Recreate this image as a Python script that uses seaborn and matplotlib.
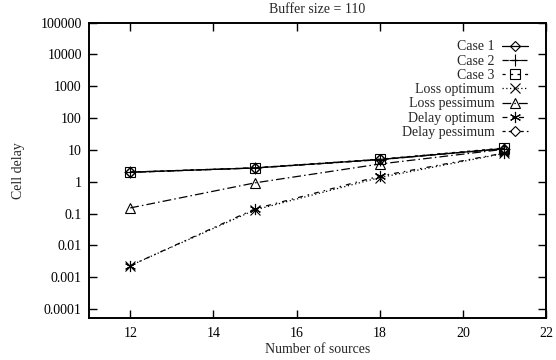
import numpy as np
import pandas as pd
import matplotlib
matplotlib.use("Agg")
import matplotlib.pyplot as plt
import matplotlib.ticker as mticker
import seaborn as sns

# Number of sources on the x axis
sources = [12, 15, 18, 21]

# Cell delay per scenario
case1 = [2.0, 2.7, 5.0, 11.0]
case2 = [1.95, 2.7, 4.9, 11.0]
case3 = [2.0, 2.75, 5.1, 11.5]
loss_opt = [0.0023, 0.13, 1.35, 7.8]
loss_pess = [0.15, 0.92, 3.6, 10.5]
delay_opt = [0.0023, 0.14, 1.5, 8.0]
delay_pess = [2.0, 2.7, 5.0, 11.0]

series_names = ["Case 1", "Case 2", "Case 3", "Loss optimum",
                "Loss pessimum", "Delay optimum", "Delay pessimum"]
series_values = [case1, case2, case3, loss_opt, loss_pess, delay_opt, delay_pess]

y_ticks = [1e-4, 1e-3, 1e-2, 1e-1, 1, 10, 100, 1000, 10000, 100000]
x_ticks = [12, 14, 16, 18, 20, 22]

df = pd.DataFrame({
    "Number of sources": np.tile(sources, len(series_names)),
    "Cell delay": np.concatenate(series_values),
    "series": np.repeat(series_names, len(sources)),
})

sns.set_style("ticks")
plt.rcParams["font.family"] = ["Liberation Serif", "DejaVu Serif"]
plt.rcParams["font.size"] = 10

markers = {
    "Case 1": "D", "Case 2": "+", "Case 3": "s", "Loss optimum": "x",
    "Loss pessimum": "^", "Delay optimum": (6, 2, 0), "Delay pessimum": "D",
}
marker_sizes = {
    "Case 1": 5.5, "Case 2": 8, "Case 3": 6.5, "Loss optimum": 7,
    "Loss pessimum": 7, "Delay optimum": 8, "Delay pessimum": 5.5,
}
dashes = {
    "Case 1": "-",
    "Case 2": (0, (5, 2.5)),
    "Case 3": (0, (2.5, 3.5)),
    "Loss optimum": (0, (1, 2)),
    "Loss pessimum": (0, (7, 2.5, 1.2, 2.5)),
    "Delay optimum": (0, (4, 4, 1.2, 4)),
    "Delay pessimum": (0, (2.5, 2.5, 2.5, 7)),
}

fig = plt.figure(figsize=(5.56, 3.6), dpi=100)
ax = fig.add_axes([0.1595, 0.1175, 0.8225, 0.8195])

for name in series_names:
    sub = df[df["series"] == name]
    sns.lineplot(
        data=sub, x="Number of sources", y="Cell delay",
        color="black", marker=markers[name], markersize=marker_sizes[name],
        mfc="none", mec="black", mew=0.8, linewidth=0.9,
        linestyle=dashes[name], label=name, legend=False, ax=ax,
    )

ax.set_yscale("log")
ax.set_xlim(11, 22)
ax.set_ylim(5.3e-5, 1e5)
ax.xaxis.set_major_locator(mticker.FixedLocator(x_ticks))
ax.yaxis.set_major_locator(mticker.FixedLocator(y_ticks))
ax.yaxis.set_major_formatter(mticker.FuncFormatter(lambda v, p: "%g" % v))
ax.yaxis.set_minor_locator(mticker.NullLocator())
ax.tick_params(axis="both", which="major", direction="in", length=6,
               width=1.0, top=True, right=True, labelsize=10, colors="black")
ax.tick_params(axis="y", pad=5)
ax.tick_params(axis="x", pad=7)
for s in ax.spines.values():
    s.set_linewidth(1.4)
    s.set_color("black")

ax.set_xlabel("Number of sources", fontsize=10, labelpad=2)
ax.set_ylabel("Cell delay", fontsize=10, labelpad=11)
ax.set_title("Buffer size = 110", fontsize=10, pad=7)

leg = ax.legend(
    ax.get_lines()[:len(series_names)], series_names,
    loc="upper right", bbox_to_anchor=(0.961, 0.94), borderaxespad=0,
    frameon=False, markerfirst=False, numpoints=1, handlelength=1.85,
    handletextpad=0.55, labelspacing=0.09, fontsize=10, borderpad=0,
)
for col in leg._legend_box.get_children()[1].get_children():
    col.align = "right"

fig.savefig("out.png", dpi=100)
